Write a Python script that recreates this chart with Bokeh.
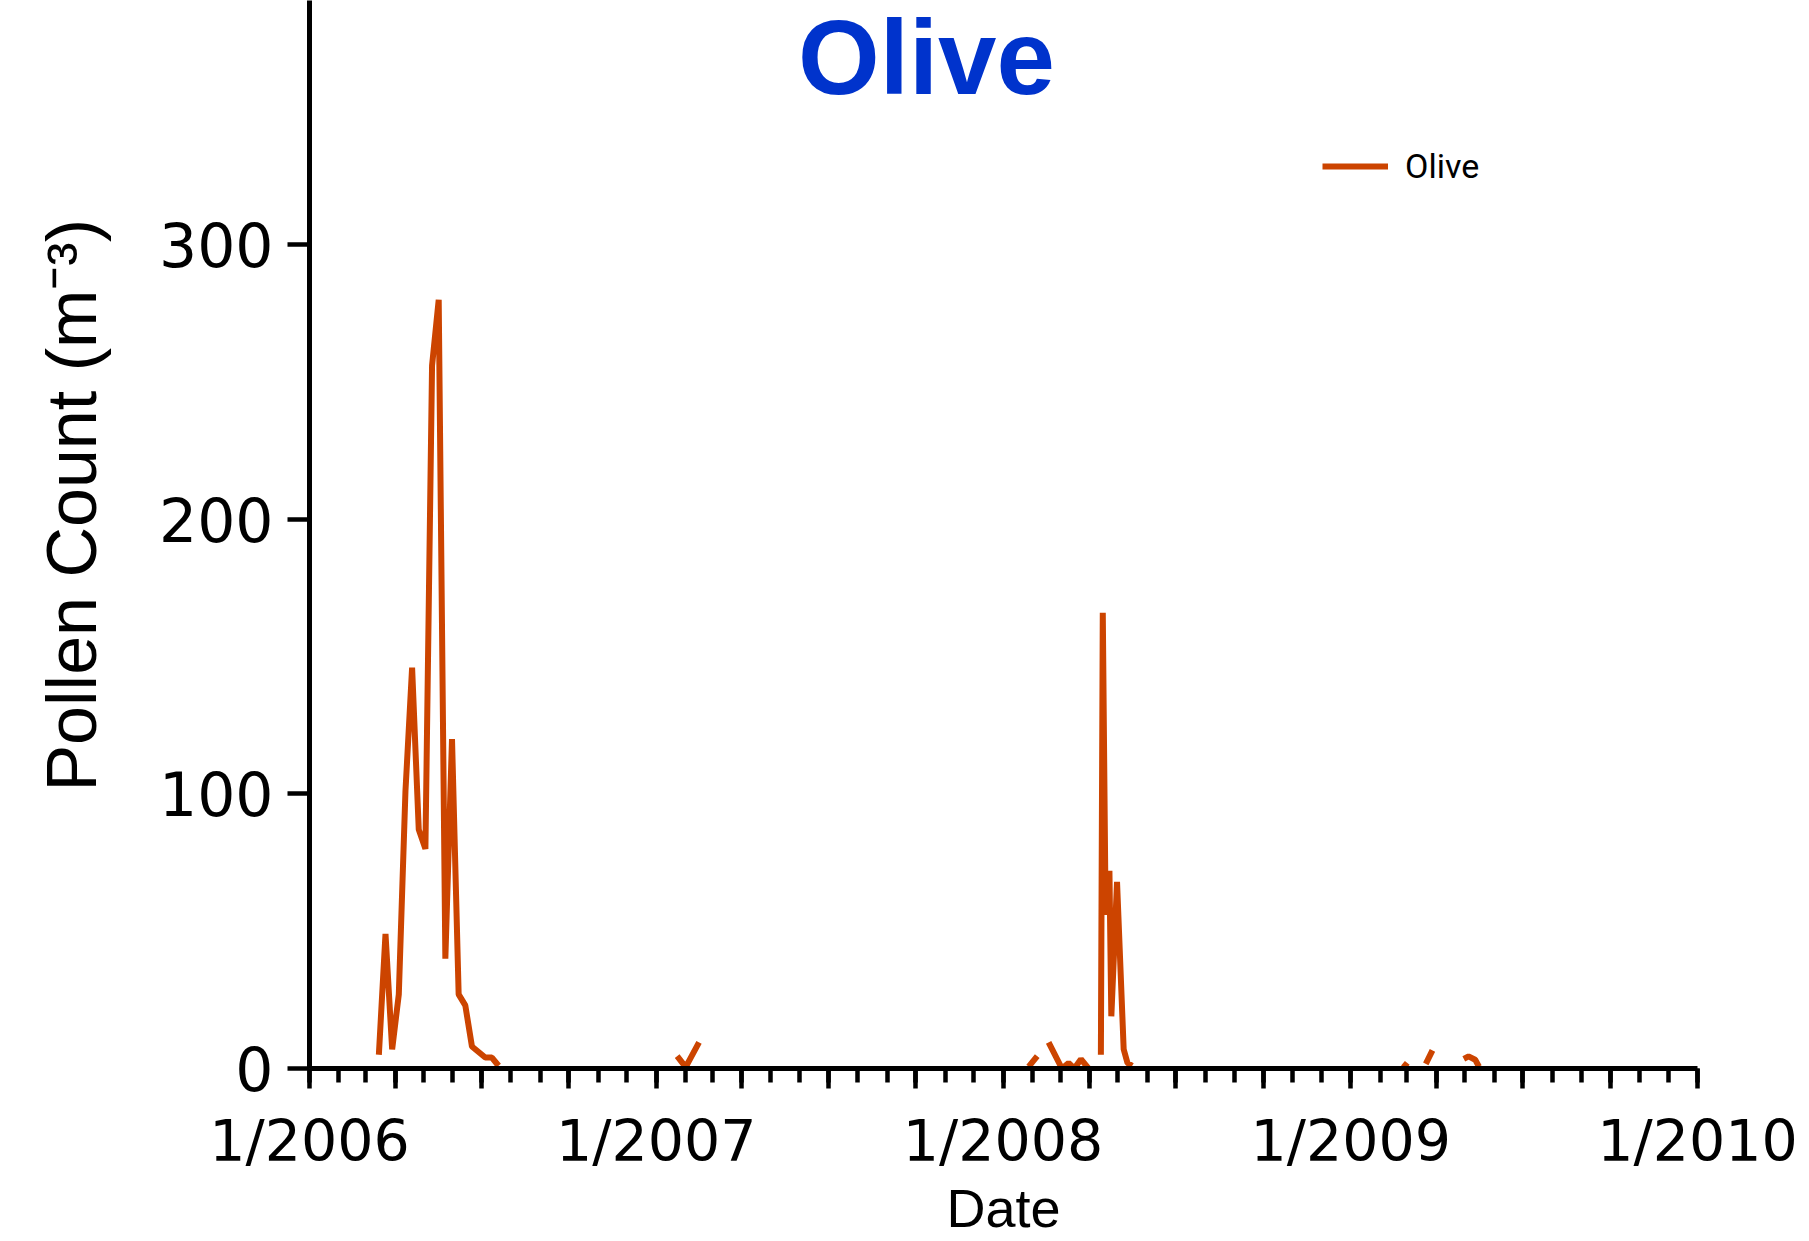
import numpy as np
import pandas as pd
from bokeh.plotting import figure
from bokeh.models import Range1d, FixedTicker, Label, ColumnDataSource
from bokeh.embed import file_html
from bokeh.resources import INLINE

# ---- data (each run is separated by a gap) ----
dates_2006 = ["2006-03-15", "2006-03-22", "2006-03-29", "2006-04-05", "2006-04-12",
              "2006-04-19", "2006-04-26", "2006-05-03", "2006-05-10", "2006-05-17",
              "2006-05-24", "2006-05-31", "2006-06-07", "2006-06-14", "2006-06-21",
              "2006-06-28", "2006-07-05", "2006-07-12", "2006-07-19"]
counts_2006 = [5, 49, 7, 27, 101, 146, 87, 80, 256, 280, 40, 120, 27, 23, 8, 6, 4, 4, 1]

dates_2007 = ["2007-01-23", "2007-02-01", "2007-02-15"]
counts_2007 = [4.5, 0.5, 9.5]

dates_2008a = ["2008-01-28", "2008-02-06"]
counts_2008a = [0.7, 4.5]
dates_2008b = ["2008-02-18", "2008-03-03", "2008-03-10", "2008-03-16", "2008-03-23", "2008-03-31"]
counts_2008b = [9.5, 0, 2, 0, 3.4, 0]
dates_2008c = ["2008-04-13", "2008-04-15", "2008-04-18", "2008-04-22", "2008-04-24",
               "2008-04-30", "2008-05-07", "2008-05-11", "2008-05-16"]
counts_2008c = [5, 166, 56, 72, 19, 68, 7, 2, 1]

dates_2009a = ["2009-02-25", "2009-03-02"]
counts_2009a = [1.9, 0.5]
dates_2009b = ["2009-03-21", "2009-03-28"]
counts_2009b = [1.7, 6.6]
dates_2009c = ["2009-04-30", "2009-05-05", "2009-05-12", "2009-05-16"]
counts_2009c = [3.5, 4.4, 3.2, 0.7]

year_labels = ["1/2006", "1/2007", "1/2008", "1/2009", "1/2010"]
y_ticks = [0, 100, 200, 300]
series_name = "Olive"
y_title = "Pollen Count (m\u207b\u00b3)"
x_title = "Date"


def ms(d):
    return pd.Timestamp(d).value / 1e6


segments = [(dates_2006, counts_2006), (dates_2007, counts_2007),
            (dates_2008a, counts_2008a), (dates_2008b, counts_2008b),
            (dates_2008c, counts_2008c), (dates_2009a, counts_2009a),
            (dates_2009b, counts_2009b), (dates_2009c, counts_2009c)]
xs, ys = [], []
for d, c in segments:
    if xs:
        xs.append(np.nan)
        ys.append(np.nan)
    xs += [ms(v) for v in d]
    ys += [float(v) for v in c]
src = ColumnDataSource(dict(x=xs, y=ys))

quarters = pd.date_range("2006-01-01", "2010-01-01", freq="QS")
months = pd.date_range("2006-01-01", "2010-01-01", freq="MS")
quarter_ms = [t.value / 1e6 for t in quarters]
month_ms = [t.value / 1e6 for t in months]
year_ms = [ms(f"{2006 + i}-01-01") for i in range(len(year_labels))]
overrides = {t: "" for t in quarter_ms}
for t, lab in zip(year_ms, year_labels):
    overrides[t] = lab

p = figure(width=1809, height=1241, x_axis_type="datetime", output_backend="svg",
           toolbar_location=None, title=None,
           x_range=Range1d(ms("2006-01-01"), ms("2010-01-01")),
           y_range=Range1d(0, 389),
           min_border_left=309, min_border_right=112, min_border_top=0, min_border_bottom=173)
p.outline_line_color = None
p.xgrid.grid_line_color = None
p.ygrid.grid_line_color = None
p.background_fill_color = "white"
p.border_fill_color = "white"

p.line("x", "y", source=src, line_color="#cc4400", line_width=6, legend_label=series_name)

xa = p.xaxis[0]
xa.ticker = FixedTicker(ticks=quarter_ms, minor_ticks=month_ms)
xa.major_label_overrides = overrides
xa.axis_line_width = 5
xa.axis_line_color = "black"
xa.major_tick_line_width = 4.5
xa.minor_tick_line_width = 4.5
xa.major_tick_out = 20
xa.major_tick_in = 0
xa.minor_tick_out = 14
xa.minor_tick_in = 0
xa.major_label_text_font = "DejaVu Sans"
xa.major_label_text_font_size = "57px"
xa.major_label_text_color = "black"
xa.major_label_standoff = 19
xa.axis_label = x_title
xa.axis_label_text_font = "Liberation Sans"
xa.axis_label_text_font_size = "54px"
xa.axis_label_text_font_style = "normal"
xa.axis_label_text_color = "black"
xa.axis_label_standoff = 1

ya = p.yaxis[0]
ya.ticker = FixedTicker(ticks=y_ticks, minor_ticks=[])
ya.axis_line_width = 5
ya.axis_line_color = "black"
ya.major_tick_line_width = 4.5
ya.major_tick_out = 22
ya.major_tick_in = 0
ya.minor_tick_out = 0
ya.minor_tick_in = 0
ya.major_label_text_font = "DejaVu Sans"
ya.major_label_text_font_size = "60px"
ya.major_label_text_color = "black"
ya.major_label_standoff = 14
ya.axis_label = "\u00a0" * 3 + y_title
ya.axis_label_text_font = "Liberation Sans"
ya.axis_label_text_font_size = "70px"
ya.axis_label_text_font_style = "normal"
ya.axis_label_text_color = "black"
ya.axis_label_standoff = 45

p.add_layout(Label(x=617, y=1011, x_units="screen", y_units="screen",
                   text=series_name, text_font="Liberation Sans", text_font_size="105px",
                   text_font_style="bold", text_color="#0033cc",
                   text_align="center", text_baseline="alphabetic"))

lg = p.legend[0]
lg.location = (1013, 882)
lg.border_line_color = None
lg.background_fill_alpha = 0
lg.padding = 0
lg.margin = 0
lg.spacing = 0
lg.glyph_width = 66
lg.glyph_height = 34
lg.label_height = 34
lg.label_standoff = 17
lg.label_text_font = "Roboto"
lg.label_text_font_size = "34px"
lg.label_text_color = "black"

open("out.html", "w").write(file_html(p, INLINE))
